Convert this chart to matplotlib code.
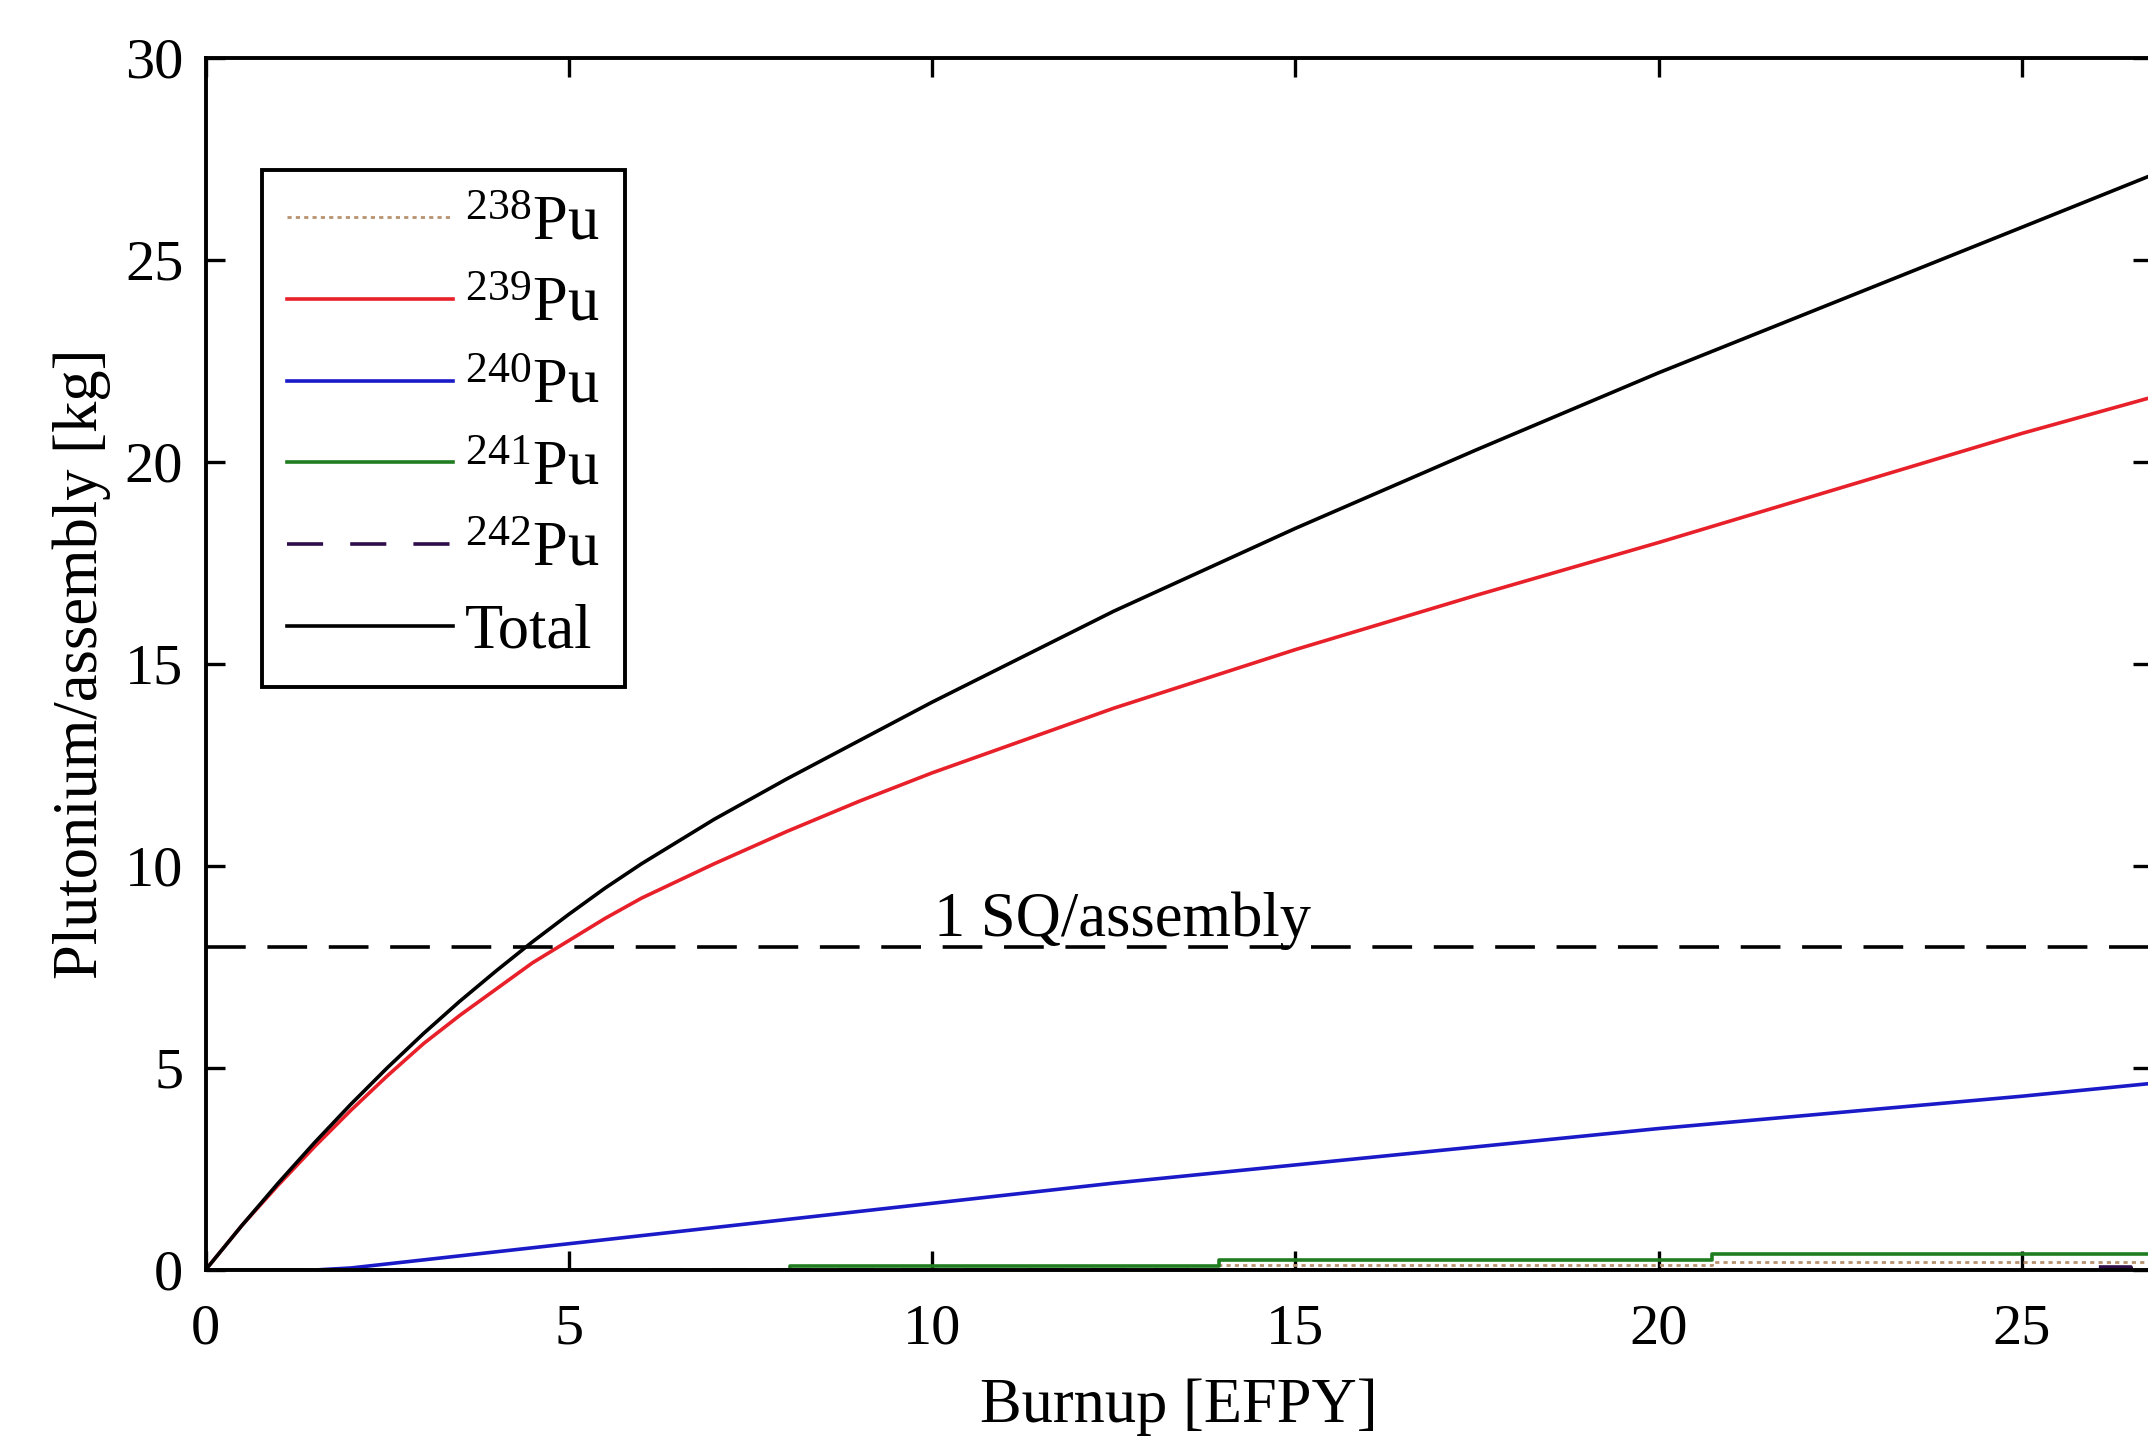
import numpy as np
import matplotlib
matplotlib.use("Agg")
import matplotlib.pyplot as plt

plt.rcParams['font.family'] = ['Liberation Serif', 'DejaVu Serif']
plt.rcParams['mathtext.fontset'] = 'custom'
plt.rcParams['mathtext.rm'] = 'Liberation Serif'
plt.rcParams['mathtext.it'] = 'Liberation Serif:italic'

# burnup grid [EFPY]
burnup = [0, 0.5, 1, 1.5, 2, 2.5, 3, 3.5, 4, 4.5, 5, 5.5, 6, 7, 8, 9, 10, 12.5, 15, 17.5, 20, 22.5, 25, 26.8]
pu239 = [0, 1.1, 2.1, 3.05, 3.95, 4.8, 5.6, 6.3, 6.95, 7.6, 8.15, 8.7, 9.2, 10.05, 10.85, 11.6, 12.3, 13.9, 15.35, 16.7, 18.0, 19.35, 20.7, 21.6]
pu240 = [0, 0, 0, 0, 0.05, 0.15, 0.25, 0.35, 0.45, 0.55, 0.65, 0.75, 0.85, 1.05, 1.25, 1.45, 1.65, 2.15, 2.6, 3.05, 3.5, 3.9, 4.3, 4.62]
total = [0, 1.1, 2.15, 3.15, 4.1, 5.0, 5.85, 6.65, 7.4, 8.12, 8.8, 9.45, 10.05, 11.15, 12.15, 13.1, 14.05, 16.3, 18.35, 20.3, 22.2, 24.0, 25.8, 27.1]

# near-zero isotopes, stepwise in the source data
pu241_x = [0, 8.05, 13.95, 20.73, 26.8]
pu241 = [0, 0.1, 0.25, 0.4, 0.4]
pu238_x = [0, 13.95, 20.73, 26.8]
pu238 = [0, 0.12, 0.2, 0.2]
pu242_x = [0, 25.95, 26.5, 26.8]
pu242 = [0, 0.08, 0.03, 0.03]

sq_limit = 8  # kg Pu, 1 significant quantity

W, H = 2148, 1437
fig = plt.figure(figsize=(W / 100, H / 100), dpi=100)
left, right, top, bottom = 205.5, 2152, 57.5, 1270
ax = fig.add_axes([left / W, 1 - bottom / H, (right - left) / W, (bottom - top) / H])

lw = 2.6
ax.step(pu238_x, pu238, where='post', color='#b89270', ls=(0, (1.5, 1.5)), lw=2.0, label=r'$^{238}$Pu')
ax.plot(burnup, pu239, color='#e8202a', lw=lw, label=r'$^{239}$Pu')
ax.plot(burnup, pu240, color='#1a1ac8', lw=lw, label=r'$^{240}$Pu')
ax.step(pu241_x, pu241, where='post', color='#1f7d1f', lw=lw, label=r'$^{241}$Pu')
ax.step(pu242_x, pu242, where='post', color='#2e0d4a', ls=(0, (10, 7.5)), lw=lw, label=r'$^{242}$Pu')
ax.plot(burnup, total, color='black', lw=lw, label='Total')

ax.axhline(sq_limit, color='black', lw=2.6, ls=(0, (11, 6)))
ax.text(10.03, 8.27, '1 SQ/assembly', fontsize=45, ha='left', va='baseline')

ax.set_xlim(0, (right - left) / 72.66)
ax.set_ylim(0, 30)
ax.set_xticks([0, 5, 10, 15, 20, 25])
ax.set_yticks([0, 5, 10, 15, 20, 25, 30])
ax.tick_params(direction='in', top=True, right=True, length=14, width=2.4, labelsize=42)
ax.tick_params(axis='x', pad=24)
ax.tick_params(axis='y', pad=16)
for s in ax.spines.values():
    s.set_linewidth(2.8)

ax.set_xlabel('Burnup [EFPY]', fontsize=45, labelpad=16)
ax.set_ylabel('Plutonium/assembly [kg]', fontsize=45, labelpad=10)

leg = ax.legend(loc='upper left', bbox_to_anchor=(262 / W, 1 - 170 / H),
                bbox_transform=fig.transFigure, borderaxespad=0,
                fontsize=45, handlelength=2.65, handletextpad=0.2,
                labelspacing=0.38, borderpad=0.4, fancybox=False,
                framealpha=1, edgecolor='black')
leg.get_frame().set_linewidth(2.8)

fig.savefig('out.png', dpi=100)
